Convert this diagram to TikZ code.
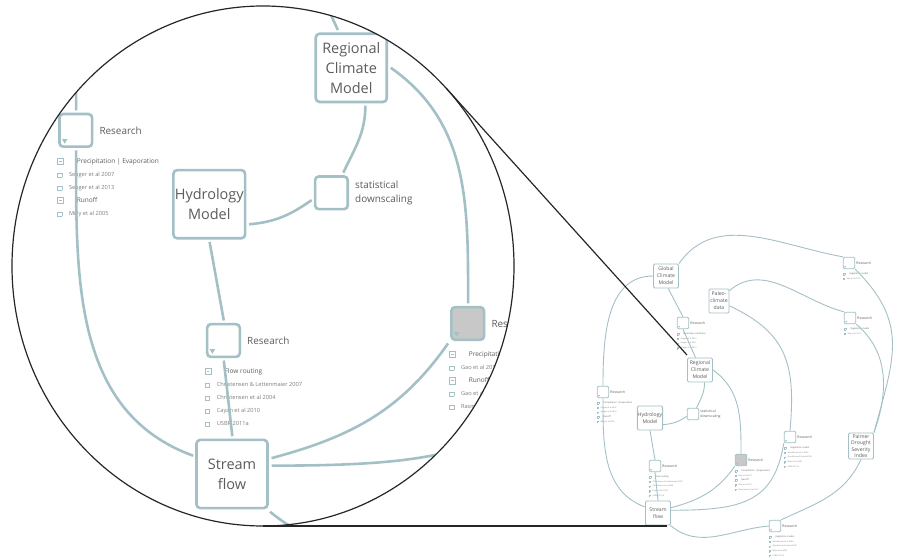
\documentclass[tikz,border=0pt]{standalone}
\usepackage{fontspec}
\setmainfont{Open Sans}
\usetikzlibrary{shapes.geometric}

\definecolor{linkc}{RGB}{163,192,198}
\definecolor{inkc}{RGB}{92,92,92}
\definecolor{refc}{RGB}{125,125,125}
\definecolor{shadec}{RGB}{200,200,200}

\def\lw{0.9pt}
\def\rc{1.3pt}

\tikzstyle{concept}=[rectangle, draw=linkc, line width=\lw, rounded corners=\rc, fill=white,
        text=inkc, align=center, inner sep=0.5, minimum width=25, minimum height=24,
        font=\fontsize{5.1}{7}\selectfont]
\tikzstyle{resbox}=[rectangle, draw=linkc, line width=\lw, rounded corners=\rc, fill=white,
        minimum size=11.5, inner sep=0]
\tikzstyle{marker}=[regular polygon, regular polygon sides=3, shape border rotate=180,
        fill=linkc, minimum size=2.2, inner sep=0]
\tikzstyle{reslabel}=[anchor=west, inner sep=1, text=inkc, font=\fontsize{3.5}{5}\selectfont]
\tikzstyle{reflist}=[anchor=north west, inner sep=0, align=left, text=inkc,
        font=\fontsize{2}{4.6}\selectfont]
\tikzstyle{link}=[draw=linkc, line width=\lw]
\tikzstyle{lens}=[draw=black!85, line width=1.2pt]

\newcommand{\chk}{\raisebox{-0.2pt}{\setlength{\fboxsep}{0pt}\setlength{\fboxrule}{0.12pt}%
        \color{linkc}\fbox{\rule{0pt}{1.4pt}\hspace{1.4pt}}}}
\newcommand{\chkhd}{\raisebox{-0.3pt}{\setlength{\fboxsep}{0pt}\setlength{\fboxrule}{0.15pt}%
        \color{linkc}\fbox{\rule{0pt}{2pt}\hspace{0.5pt}\rule[0.9pt]{0.9pt}{0.2pt}\hspace{0.6pt}}}}
\newcommand{\hd}[1]{{\fontsize{2.3}{4.6}\selectfont\chkhd\hspace{4.6pt}#1}}
\newcommand{\rf}[1]{{\color{refc}\chk\hspace{2.5pt}#1}}

% texts of nodes that lie outside the lens are left out of the lens copy
\newcommand{\keep}[1]{#1}
\newcommand{\drop}[1]{}
\let\far\keep
\let\wrap\keep

% research box with its label and reference list
\newcommand{\research}[5][]{%
        \node[resbox,#1] (#2) at (#3,#4) {};
        \node[marker] (#2-m) at ({#3-3.9},{#4-3.6}) {};
        \node[reslabel] (#2-t) at (#2.east) {\wrap{Research}};
        \node[reflist] (#2-l) at ({#3-6.7},{#4-9.6}) {\wrap{#5}};
}
\newcommand{\farresearch}[4]{{\let\wrap\far\research{#1}{#2}{#3}{#4}}}

\newcommand{\droughtmap}[1]{%
        \node[concept] (#1gcm) at (666,281) {\far{Global\\Climate\\Model}};
        \node[concept, minimum width=20] (#1paleo) at (719,256) {\far{Paleo-\\climate\\data}};
        \node[concept] (#1rcm) at (700,187) {Regional\\Climate\\Model};
        \node[concept] (#1hydro) at (650,139) {Hydrology\\Model};
        \node[concept] (#1stream) at (658,44) {Stream\\flow};
        \node[concept, minimum height=26, font=\fontsize{5.1}{6.5}\selectfont] (#1pdsi) at (861,111)
                {\far{Palmer\\Drought\\Severity\\Index}};
        \node[resbox] (#1sds) at (693,143) {};
        \node[reslabel, align=left] (#1sds-t) at (#1sds.east) {statistical\\downscaling};

        \farresearch{#1resG}{683}{234}{\hd{Boundary conditions}\\ \rf{Seager et al 2010}\\
                \rf{Seager et al 2011}\\ \rf{Seager et al 2013}}
        \research{#1resL}{603}{165}{\hd{Precipitation | Evaporation}\\ \rf{Seager et al 2007}\\
                \rf{Seager et al 2013}\\ \hd{Runoff}\\ \rf{Milly et al 2005}}
        \research{#1resH}{655}{91}{\hd{Flow routing}\\ \rf{Christensen \& Lettenmaier 2007}\\
                \rf{Christensen et al 2004}\\ \rf{Cayan et al 2010}\\ \rf{USBR 2011a}}
        \research[fill=shadec]{#1resX}{741}{97}{\hd{Precipitation | Evaporation}\\ \rf{Gao et al 2011}\\
                \hd{Runoff}\\ \rf{Gao et al 2011}\\ \rf{Rasmussen et al 2011}}
        \farresearch{#1resT}{849}{294}{\hd{Vegetation model}\\ \rf{Gao et al 2012}}
        \farresearch{#1resM}{850}{239}{\hd{Vegetation model}\\ \rf{Gao et al 2012}}
        \farresearch{#1resP}{790}{120}{\hd{Vegetation model}\\ \rf{Woodhouse et al 2006}\\
                \rf{Woodhouse \& Lukas 2006}\\ \rf{Meko et al 2007}\\ \rf{USBR 2011a}}
        \farresearch{#1resB}{775}{31}{\hd{Vegetation model}\\ \rf{Woodhouse et al 2006}\\
                \rf{Woodhouse \& Lukas 2006}\\ \rf{Meko et al 2007}\\ \rf{USBR 2011a}}

        \draw[link] (#1gcm.west) to[out=180,in=90] (#1resL.north);
        \draw[link] (#1resL.south) to[out=-90,in=160] (#1stream.155);
        \draw[link] (#1gcm.-80) -- (#1resG.north);
        \draw[link] (#1resG.south) -- (#1rcm.110);
        \draw[link] (#1rcm.-70) to[out=-90,in=65] (#1sds.60);
        \draw[link] (#1sds.200) to[out=215,in=5] (#1hydro.-27);
        \draw[link] (#1hydro.south) -- (#1resH.north);
        \draw[link] (#1resH.south) -- (#1stream.north);
        \draw[link] (#1rcm.east) to[out=-35,in=90] (#1resX.north);
        \draw[link] (#1resX.south west) to[out=-125,in=15] (#1stream.22);
        \draw[link] (#1paleo.-25) to[out=-25,in=85,looseness=1.2] (#1resP.north);
        \draw[link] (#1resP.south west) .. controls +(-10,-60) and +(70,0) .. (#1stream.12);
        \draw[link] (#1paleo.45) to[out=40,in=165] (#1resM.north west);
        \draw[link] (#1resM.south east) to[out=-40,in=70] (#1pdsi.north east);
        \draw[link] (#1gcm.north east) to[out=55,in=170] (#1resT.north west);
        \draw[link] (#1resT.south east) to[out=-45,in=75,looseness=1.2] (#1pdsi.north east);
        \draw[link] (#1pdsi.south) to[out=-115,in=25] (#1resB.north east);
        \draw[link] (#1stream.-45) to[out=-40,in=185] (#1resB.west);
}

\begin{document}
\begin{tikzpicture}[x=1pt, y=1pt]
\useasboundingbox (0,0) rectangle (897,557);

% the whole map
\droughtmap{s}

% magnified part
\begin{scope}
        \clip (263,291) ellipse (251 and 260);
        \begin{scope}[shift={(-1636.72,-41.96)}, scale=2.84, transform shape]
                \def\lw{2.6pt}
                \def\rc{3.7pt}
                \let\far\drop
                \droughtmap{z}
        \end{scope}
\end{scope}
\draw[lens] (263,291) ellipse (251 and 260);

\coordinate (lensA) at (446.4,468.6);
\coordinate (spotA) at (687,202);
\coordinate (lensB) at (263,31);
\coordinate (spotB) at (667,31);
\draw[lens] (lensA) -- (spotA);
\draw[lens] (lensB) -- (spotB);

\end{tikzpicture}
\end{document}
